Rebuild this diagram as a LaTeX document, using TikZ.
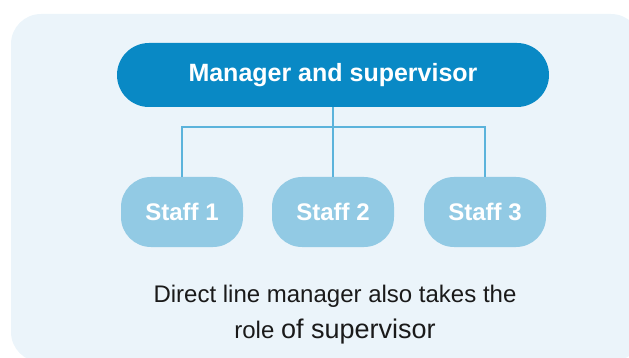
\documentclass[tikz,border=0pt]{standalone}
\usepackage{fontspec}
\setmainfont{Liberation Sans}
\definecolor{panelblue}{HTML}{EBF4FA}
\definecolor{managerblue}{HTML}{0989C5}
\definecolor{staffblue}{HTML}{92CAE4}
\definecolor{linkblue}{HTML}{5BB3DB}
\definecolor{captiongray}{HTML}{1A1A1A}
\tikzset{
    managerbox/.style={
        fill=managerblue,
        rounded corners=32pt,
        minimum width=432pt,
        minimum height=64pt,
        inner sep=0pt,
        text=white,
        font=\fontsize{25}{30}\selectfont\bfseries
    },
    staffbox/.style={
        fill=staffblue,
        rounded corners=30pt,
        minimum width=122pt,
        minimum height=70pt,
        inner sep=0pt,
        text=white,
        font=\fontsize{24}{29}\selectfont\bfseries
    },
    orgline/.style={
        draw=linkblue,
        line width=1.3pt
    },
    captiontext/.style={
        text=captiongray,
        inner sep=0pt,
        anchor=base,
        font=\fontsize{24}{29}\selectfont
    }
}
\begin{document}
\begin{tikzpicture}[x=1pt,y=-1pt]
        \clip (0,0) rectangle (629,358);
        \fill[panelblue,rounded corners=30pt] (11,14) rectangle (641,362);

        \node[managerbox] (manager) at (333,75) {Manager and supervisor};

        \node[staffbox] (staff1) at (182,212) {Staff 1};
        \node[staffbox] (staff2) at (333,212) {Staff 2};
        \node[staffbox] (staff3) at (485,212) {Staff 3};

        \coordinate (branch) at (333,127);
        \draw[orgline] (manager.south) -- (branch);
        \draw[orgline] (staff1.north) |- (branch) -| (staff3.north);
        \draw[orgline] (branch) -- (staff2.north);

        \node[captiontext] (captiontop) at (335,302)
            {Direct line manager also takes the};
        \node[captiontext] (captionbottom) at (335,338)
            {role {\fontsize{27}{32}\selectfont of supervisor}};
    \end{tikzpicture}
\end{document}
